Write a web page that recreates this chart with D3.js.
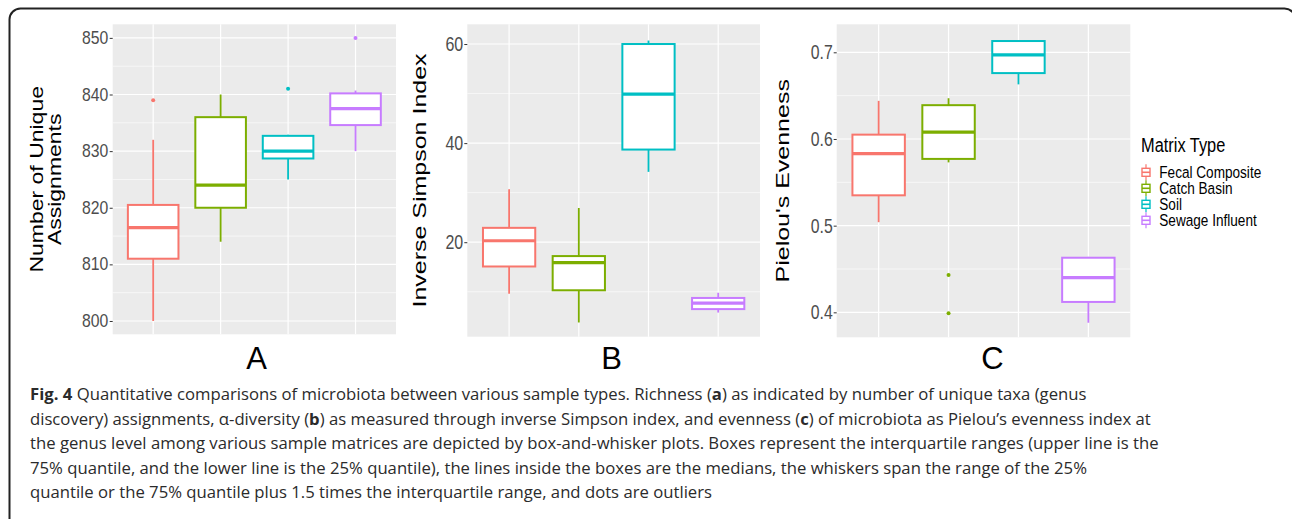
<!DOCTYPE html>
<html>
<head>
<meta charset="utf-8">
<script src="https://cdn.jsdelivr.net/npm/d3@7"></script>
<style>
  body { margin: 0; background: #fff; }
  svg { display: block; }
</style>
</head>
<body>
<svg id="fig" width="1292" height="519"></svg>
<script>
// matrix types, in legend order
const categories = ["Fecal Composite", "Catch Basin", "Soil", "Sewage Influent"];
const colors = ["#F8766D", "#7CAE00", "#00BFC4", "#C77CFF"];

// box stats per category: [lower whisker, q1, median, q3, upper whisker]
const richnessStats = [
    [800, 811, 816.5, 820.5, 832],
    [814, 820, 824, 836, 840],
    [825, 828.7, 830, 832.7, 832.9],
    [830, 834.6, 837.5, 840.2, 840.7]
];
const richnessOutliers = [[839], [], [841], [850]];
const richnessTicks = [800, 810, 820, 830, 840, 850];

const simpsonStats = [
    [9.6, 15.1, 20.3, 22.9, 30.7],
    [3.8, 10.3, 15.9, 17.2, 26.9],
    [34.2, 38.7, 49.9, 60, 60.7],
    [5.8, 6.5, 7.7, 8.75, 9.8]
];
const simpsonOutliers = [[], [], [], []];
const simpsonTicks = [20, 40, 60];

const evennessStats = [
    [0.504, 0.535, 0.583, 0.605, 0.644],
    [0.573, 0.577, 0.608, 0.639, 0.647],
    [0.663, 0.676, 0.697, 0.713, 0.713],
    [0.388, 0.412, 0.440, 0.463, 0.464]
];
const evennessOutliers = [[], [0.443, 0.399], [], []];
const evennessTicks = [0.4, 0.5, 0.6, 0.7];

const captionLines = [
    [["Fig. 4", true], [" Quantitative comparisons of microbiota between various sample types. Richness (", false], ["a", true], [") as indicated by number of unique taxa (genus", false]],
    [["discovery) assignments, α-diversity (", false], ["b", true], [") as measured through inverse Simpson index, and evenness (", false], ["c", true], [") of microbiota as Pielou’s evenness index at", false]],
    [["the genus level among various sample matrices are depicted by box-and-whisker plots. Boxes represent the interquartile ranges (upper line is the", false]],
    [["75% quantile, and the lower line is the 25% quantile), the lines inside the boxes are the medians, the whiskers span the range of the 25%", false]],
    [["quantile or the 75% quantile plus 1.5 times the interquartile range, and dots are outliers", false]]
];

const svg = d3.select("#fig");
const FONT = "'Liberation Sans', Arial, sans-serif";

// frame round the figure
svg.append("rect")
    .attr("x", 9.5).attr("y", 8.5)
    .attr("width", 1286).attr("height", 530)
    .attr("rx", 11)
    .attr("fill", "none")
    .attr("stroke", "#222")
    .attr("stroke-width", 2);

const panels = [
    { stats: richnessStats, outliers: richnessOutliers, ticks: richnessTicks, fmt: d3.format("d"),
      left: 112.7, right: 396, top: 24.3, bottom: 334.3, domain: [797.65, 852.4],
      tickFont: 17.5, tickSx: 0.9,
      title: ["Number of Unique", "Assignments"], titleX: [42.7, 61], titleFont: 23, titleSx: 0.83,
      letter: "A", letterX: 256.7 },
    { stats: simpsonStats, outliers: simpsonOutliers, ticks: simpsonTicks, fmt: d3.format("d"),
      left: 467.3, right: 760, top: 24.3, bottom: 336.7, domain: [0.93, 63.98],
      tickFont: 19.5, tickSx: 0.82,
      title: ["Inverse Simpson Index"], titleX: [426], titleFont: 25, titleSx: 0.75,
      letter: "B", letterX: 611.7 },
    { stats: evennessStats, outliers: evennessOutliers, ticks: evennessTicks, fmt: d3.format(".1f"),
      left: 836.7, right: 1130.3, top: 24.3, bottom: 337.3, domain: [0.3712, 0.7323],
      tickFont: 20, tickSx: 0.79,
      title: ["Pielou's Evenness"], titleX: [789.3], titleFont: 25, titleSx: 0.75,
      letter: "C", letterX: 992.5 }
];

panels.forEach(p => {
    const g = svg.append("g");
    const x = d3.scalePoint().domain(categories).range([p.left, p.right]).padding(0.6);
    const y = d3.scaleLinear().domain(p.domain).range([p.bottom, p.top]);
    const bw = x.step() * 0.75;

    // panel background
    g.append("rect")
        .attr("x", p.left).attr("y", p.top)
        .attr("width", p.right - p.left).attr("height", p.bottom - p.top)
        .attr("fill", "#EBEBEB");

    // minor grid halfway between majors
    const step = p.ticks[1] - p.ticks[0];
    const minors = d3.range(p.ticks[0] - step / 2, p.domain[1], step)
        .filter(v => v > p.domain[0] && v < p.domain[1]);
    g.selectAll("line.minor").data(minors).join("line")
        .attr("x1", p.left).attr("x2", p.right)
        .attr("y1", d => y(d)).attr("y2", d => y(d))
        .attr("stroke", "#fff").attr("stroke-width", 0.6);
    g.selectAll("line.major").data(p.ticks).join("line")
        .attr("x1", p.left).attr("x2", p.right)
        .attr("y1", d => y(d)).attr("y2", d => y(d))
        .attr("stroke", "#fff").attr("stroke-width", 1.2);
    g.selectAll("line.vgrid").data(categories).join("line")
        .attr("x1", d => x(d)).attr("x2", d => x(d))
        .attr("y1", p.top).attr("y2", p.bottom)
        .attr("stroke", "#fff").attr("stroke-width", 1.2);

    // y axis
    const ax = g.append("g")
        .attr("transform", `translate(${p.left},0)`)
        .call(d3.axisLeft(y).tickValues(p.ticks).tickFormat(p.fmt).tickSize(3).tickPadding(2));
    ax.select(".domain").remove();
    ax.selectAll(".tick line").attr("stroke", "#333").attr("stroke-width", 1);
    ax.selectAll(".tick text")
        .attr("fill", "#4D4D4D")
        .style("font-family", FONT)
        .style("font-size", p.tickFont + "px")
        .attr("transform", `scale(${p.tickSx},1)`);

    // boxes
    const box = g.selectAll("g.box").data(p.stats).join("g")
        .attr("class", "box")
        .attr("stroke", (d, i) => colors[i]);
    box.append("line")
        .attr("x1", (d, i) => x(categories[i])).attr("x2", (d, i) => x(categories[i]))
        .attr("y1", d => y(d[4])).attr("y2", d => y(d[3]))
        .attr("stroke-width", 1.8);
    box.append("line")
        .attr("x1", (d, i) => x(categories[i])).attr("x2", (d, i) => x(categories[i]))
        .attr("y1", d => y(d[1])).attr("y2", d => y(d[0]))
        .attr("stroke-width", 1.8);
    box.append("rect")
        .attr("x", (d, i) => x(categories[i]) - bw / 2)
        .attr("y", d => y(d[3]))
        .attr("width", bw)
        .attr("height", d => y(d[1]) - y(d[3]))
        .attr("fill", "#fff")
        .attr("stroke-width", 2);
    box.append("line")
        .attr("x1", (d, i) => x(categories[i]) - bw / 2).attr("x2", (d, i) => x(categories[i]) + bw / 2)
        .attr("y1", d => y(d[2])).attr("y2", d => y(d[2]))
        .attr("stroke-width", 3.2);

    // outliers
    p.outliers.forEach((vals, i) => {
        g.selectAll(null).data(vals).join("circle")
            .attr("cx", x(categories[i]))
            .attr("cy", d => y(d))
            .attr("r", 2)
            .attr("fill", colors[i]);
    });

    // axis title, squeezed across like the source image
    const cy = (p.top + p.bottom) / 2;
    p.title.forEach((t, k) => {
        svg.append("text")
            .attr("transform", `translate(${p.titleX[k]},${cy}) scale(${p.titleSx},1) rotate(-90)`)
            .attr("text-anchor", "middle")
            .style("font-family", FONT)
            .style("font-size", p.titleFont + "px")
            .attr("fill", "#000")
            .text(t);
    });

    // panel letter
    svg.append("text")
        .attr("x", p.letterX).attr("y", 369)
        .attr("text-anchor", "middle")
        .style("font-family", FONT)
        .style("font-size", "31px")
        .attr("fill", "#000")
        .text(p.letter);
});

// legend
const leg = svg.append("g");
leg.append("text")
    .attr("transform", "translate(1141,151.7) scale(0.78,1)")
    .style("font-family", FONT)
    .style("font-size", "21px")
    .text("Matrix Type");
const item = leg.selectAll("g.item").data(categories).join("g")
    .attr("class", "item")
    .attr("transform", (d, i) => `translate(0,${178.3 + i * 16})`);
item.append("line")
    .attr("x1", 1146).attr("x2", 1146).attr("y1", -14).attr("y2", 2)
    .attr("stroke", (d, i) => colors[i]).attr("stroke-width", 1.2);
item.append("rect")
    .attr("x", 1142).attr("y", -10).attr("width", 8).attr("height", 8)
    .attr("fill", "#fff")
    .attr("stroke", (d, i) => colors[i]).attr("stroke-width", 1.4);
item.append("line")
    .attr("x1", 1142).attr("x2", 1150).attr("y1", -6).attr("y2", -6)
    .attr("stroke", (d, i) => colors[i]).attr("stroke-width", 1.6);
item.append("text")
    .attr("transform", "translate(1159.3,0) scale(0.8,1)")
    .style("font-family", FONT)
    .style("font-size", "17px")
    .attr("fill", "#000")
    .text(d => d);

// caption
const cap = svg.append("g");
captionLines.forEach((parts, i) => {
    const t = cap.append("text")
        .attr("x", 30).attr("y", 400 + i * 24.5)
        .style("font-family", "'Open Sans', sans-serif")
        .style("font-size", "16.7px")
        .attr("fill", "#2b2b2b");
    parts.forEach(([s, bold]) => {
        t.append("tspan").attr("font-weight", bold ? 700 : 400).text(s);
    });
});
</script>
</body>
</html>
